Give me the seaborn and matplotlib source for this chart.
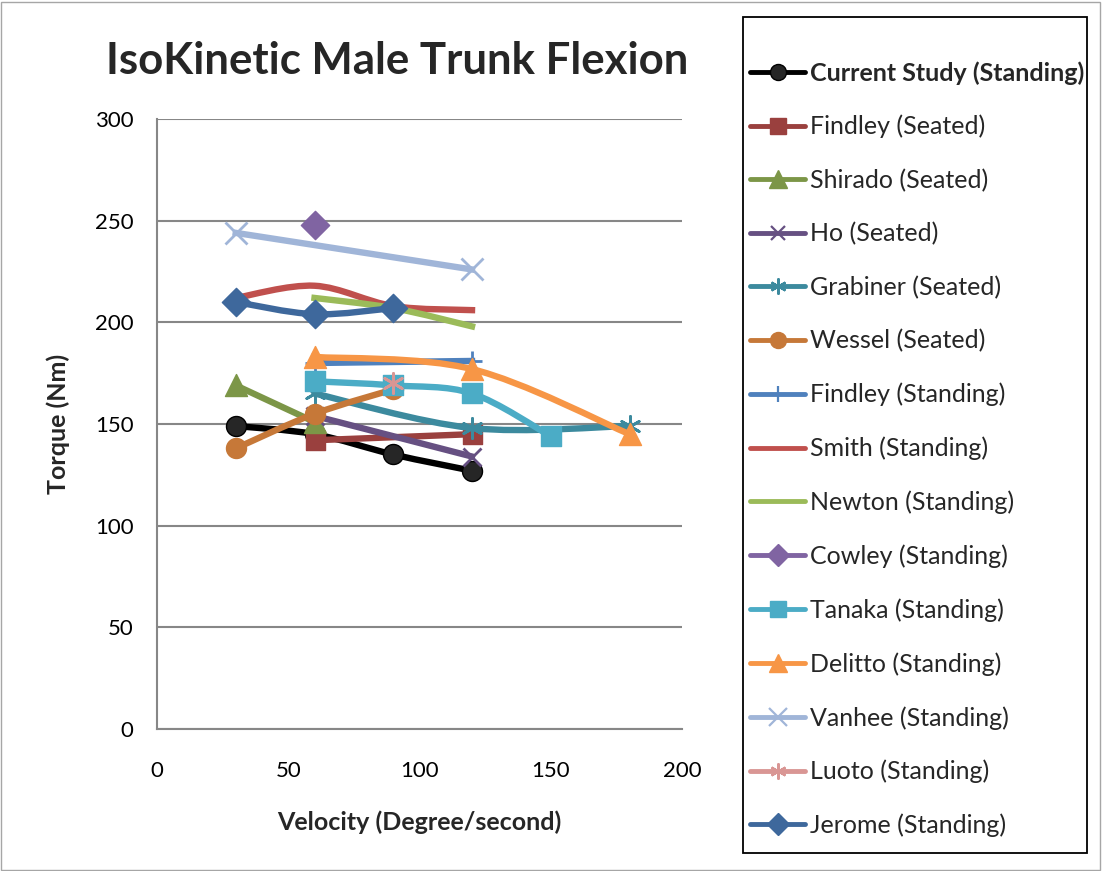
import numpy as np
import matplotlib
matplotlib.use("Agg")
import matplotlib.pyplot as plt
from matplotlib.path import Path
from matplotlib.patches import PathPatch, Rectangle
from matplotlib.lines import Line2D
import seaborn as sns

# ---- data: velocity (deg/s) and peak torque (Nm) per study ----
current_x = [30, 60, 90, 120]
current_y = [149, 145, 135, 127]
findley_seated_x = [60, 120]
findley_seated_y = [142, 145]
shirado_x = [30, 60]
shirado_y = [169, 151]
ho_x = [60, 120]
ho_y = [154, 134]
grabiner_x = [60, 120, 180]
grabiner_y = [165, 148, 149]
wessel_x = [30, 60, 90]
wessel_y = [138, 155, 167]
findley_standing_x = [60, 120]
findley_standing_y = [180, 181]
smith_x = [30, 60, 90, 120]
smith_y = [212, 218, 208, 206]
newton_x = [60, 90, 120]
newton_y = [212, 207, 198]
cowley_x = [60]
cowley_y = [248]
tanaka_x = [60, 90, 120, 150]
tanaka_y = [171, 169, 165, 144]
delitto_x = [60, 120, 180]
delitto_y = [183, 177, 145]
vanhee_x = [30, 120]
vanhee_y = [244, 226]
luoto_x = [90]
luoto_y = [170]
jerome_x = [30, 60, 90]
jerome_y = [210, 204, 207]

labels = ["Current Study (Standing)", "Findley (Seated)", "Shirado (Seated)",
          "Ho (Seated)", "Grabiner (Seated)", "Wessel (Seated)",
          "Findley (Standing)", "Smith (Standing)", "Newton (Standing)",
          "Cowley (Standing)", "Tanaka (Standing)", "Delitto (Standing)",
          "Vanhee (Standing)", "Luoto (Standing)", "Jerome (Standing)"]
x_values = [current_x, findley_seated_x, shirado_x, ho_x, grabiner_x, wessel_x,
            findley_standing_x, smith_x, newton_x, cowley_x, tanaka_x,
            delitto_x, vanhee_x, luoto_x, jerome_x]
y_values = [current_y, findley_seated_y, shirado_y, ho_y, grabiner_y, wessel_y,
            findley_standing_y, smith_y, newton_y, cowley_y, tanaka_y,
            delitto_y, vanhee_y, luoto_y, jerome_y]

# ---- styling per series ----
colors = ["#000000", "#9A403E", "#7C9647", "#665082", "#3C8A9E", "#C67838",
          "#4F81BD", "#C0504D", "#9BBB59", "#8064A2", "#4BACC6", "#F79646",
          "#A0B5D8", "#D99694", "#3E689C"]
marker_face = ["#262626"] + colors[1:]
ASTER = (6, 2, 0)
markers = ["o", "s", "^", "x", ASTER, "o", "+", None, None, "D", "s", "^",
           "x", ASTER, "D"]
marker_px = [20, 19, 22, 18, 20, 20, 20, 0, 0, 20, 20, 22, 22, 20, 20]

sns.set_theme(style="white")
plt.rcParams["font.family"] = ["Lato", "DejaVu Sans"]

W, H = 1102, 871
fig = plt.figure(figsize=(W / 100, H / 100), dpi=100)
ax = fig.add_axes([157 / W, 1 - 729 / H, (682 - 157) / W, (729 - 119) / H])

grid_c = "#878787"


def smooth_path(xs, ys):
    """Bezier path through the points with Catmull-Rom style tangents."""
    pts = np.column_stack([xs, ys]).astype(float)
    n = len(pts)
    verts = [pts[0]]
    codes = [Path.MOVETO]
    for i in range(n - 1):
        p0 = pts[i - 1] if i > 0 else pts[i]
        p1, p2 = pts[i], pts[i + 1]
        p3 = pts[i + 2] if i + 2 < n else pts[i + 1]
        verts += [p1 + (p2 - p0) / 6.0, p2 - (p3 - p1) / 6.0, p2]
        codes += [Path.CURVE4] * 3
    return Path(verts, codes)


LW = 4.6
for i, (xs, ys) in enumerate(zip(x_values, y_values)):
    c = colors[i]
    if len(xs) > 1:
        patch = PathPatch(smooth_path(xs, ys), facecolor="none", edgecolor=c,
                          lw=LW, zorder=3 + 2 * i, capstyle="projecting",
                          joinstyle="round")
        ax.add_patch(patch)
    m = markers[i]
    if m is not None:
        s = (marker_px[i] * 0.72) ** 2
        if m in ("x", "+") or m == ASTER:
            sns.scatterplot(x=xs, y=ys, marker=m, s=s, color=c, ax=ax,
                            linewidth=2.0, edgecolor=c, zorder=4 + 2 * i)
        else:
            edge = "#000000" if i == 0 else c
            sns.scatterplot(x=xs, y=ys, marker=m, s=s, color=marker_face[i],
                            edgecolor=edge, linewidth=1.0, ax=ax,
                            zorder=4 + 2 * i)

# ---- axes ----
ax.set_xlim(0, 200)
ax.set_ylim(0, 300)
ax.set_xticks(range(0, 201, 50))
ax.set_yticks(range(0, 301, 50))
ax.yaxis.grid(True, color=grid_c, lw=1.5)
ax.xaxis.grid(False)
ax.set_axisbelow(True)
for side in ("top", "right"):
    ax.spines[side].set_visible(False)
for side in ("left", "bottom"):
    ax.spines[side].set_color(grid_c)
    ax.spines[side].set_linewidth(1.5)
ax.tick_params(axis="both", which="major", direction="out", length=6,
               width=1.5, color=grid_c, labelsize=16, colors="#000000")
ax.tick_params(axis="y", pad=11)
ax.tick_params(axis="x", pad=17)
ax.set_xlabel("Velocity (Degree/second)", fontsize=18, fontweight="bold",
              labelpad=21)
ax.set_ylabel("Torque (Nm)", fontsize=18, fontweight="bold", labelpad=18)

fig.text(397 / W, 1 - 61 / H, "IsoKinetic Male Trunk Flexion", fontsize=31.5,
         fontweight="bold", ha="center", va="center")

# ---- legend ----
handles = []
for i in range(len(labels)):
    m = markers[i]
    kw = dict(color=colors[i], lw=3.5)
    if m is not None:
        filled = not (m in ("x", "+") or m == ASTER)
        kw.update(marker=m, markersize=marker_px[i] * 0.72 * 0.8,
                  markerfacecolor=marker_face[i],
                  markeredgecolor="#000000" if i == 0 else colors[i],
                  markeredgewidth=1.0 if filled else 1.6)
    handles.append(Line2D([], [], **kw))

leg = fig.legend(handles, labels, loc="upper left",
                 bbox_to_anchor=(750 / W, 1 - 61 / H), frameon=False,
                 fontsize=18, handlelength=2.2, handletextpad=0.2,
                 labelspacing=1.21, borderpad=0.0, borderaxespad=0.0)
leg.get_texts()[0].set_fontweight("bold")

# legend box
fig.patches.append(Rectangle((743 / W, 1 - 853 / H), (1087 - 743) / W,
                             (853 - 17) / H, transform=fig.transFigure,
                             fill=False, edgecolor="#000000", lw=1.3))

# thin outer chart border
fig.patches.append(Rectangle((1 / W, 1 / H), 1 - 3 / W, 1 - 3 / H,
                             transform=fig.transFigure, fill=False,
                             edgecolor="#A6A6A6", lw=1.0))

fig.savefig("out.png", dpi=100, facecolor="white")
